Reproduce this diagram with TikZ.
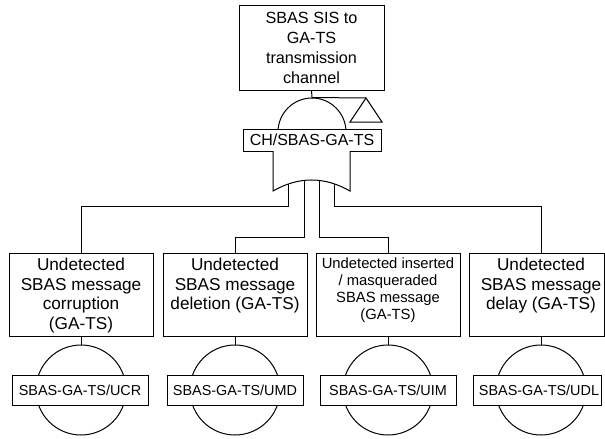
\documentclass[tikz,border=0pt]{standalone}
\usepackage{fontspec}
\setmainfont{Liberation Sans}
\begin{document}
\begin{tikzpicture}[x=0.5pt,y=-0.5pt,line width=0.5pt,
  evbox/.style={draw,fill=white,inner sep=0pt,minimum width=72pt,minimum height=41.5pt},
  evtext/.style={anchor=north,inner sep=0pt,align=center,font=\fontsize{8.6}{9.75}\selectfont},
  tag/.style={draw,fill=white,inner sep=0pt,minimum width=68pt,minimum height=15pt,font=\fontsize{7.2}{8}\selectfont},
  ring/.style={draw,circle,inner sep=0pt,minimum size=45pt}]
\useasboundingbox (0,0) rectangle (605,439);

% top event
\node[draw,fill=white,inner sep=0pt,minimum width=72.5pt,minimum height=42.5pt,align=center,
      font=\fontsize{8.1}{10}\selectfont] (top) at (311.5,47.5)
  {SBAS SIS to\\GA-TS\\transmission\\channel};

% gate symbol: arc, identifier box, OR base
\node[draw,circle,inner sep=0pt,minimum size=34pt] (gc) at (312,132) {};
\node[draw,fill=white,inner sep=0pt,minimum width=69pt,minimum height=11pt,
      font=\fontsize{8}{9}\selectfont] (ch) at (312,140) {CH/SBAS-GA-TS};
\path[draw,fill=white] (273,151) -- (273,191)
  .. controls (298.67,176.33) and (324.33,176.33) .. (350,191) -- (350,151);

% transfer triangle
\coordinate (tri) at (366,98);
\draw (tri) -- (350,122) -- (382,122) -- cycle;
\draw (top.south) -- (gc.north) -- (tri);

% basic events
\node[ring] (r1) at (81,390) {};
\node[ring] (r2) at (235,390) {};
\node[ring] (r3) at (388,390) {};
\node[ring] (r4) at (541,390) {};
\node[evbox] (b1) at (81,294.5) {};
\node[evbox] (b2) at (235,294.5) {};
\node[evbox] (b3) at (388,294.5) {};
\node[evbox,minimum width=67.5pt] (b4) at (536.5,294.5) {};

\node[evtext] at (81,258) {Undetected\\SBAS message\\corruption\\(GA-TS)};
\node[evtext] at (235,258) {Undetected\\SBAS message\\deletion (GA-TS)};
\node[evtext,font=\fontsize{7.4}{8.5}\selectfont] at (388,257)
  {Undetected inserted\\/ masqueraded\\SBAS message\\(GA-TS)};
\node[evtext] at (541,258) {Undetected\\SBAS message\\delay (GA-TS)};

\node[tag] (t1) at (80,390) {SBAS-GA-TS/UCR};
\node[tag] (t2) at (235,390) {SBAS-GA-TS/UMD};
\node[tag] (t3) at (388,390) {SBAS-GA-TS/UIM};
\node[tag,minimum width=64pt] (t4) at (537,390) {};
\node[inner sep=0pt,font=\fontsize{7.2}{8}\selectfont] at (539,390) {SBAS-GA-TS/UDL};

\foreach \n in {1,2,3}{ \draw (b\n.south) -- (r\n.north); }
\draw (r4.north |- b4.south) -- (r4.north);

% branches from the OR base
\coordinate (g1) at (288,184.1);
\coordinate (g2) at (304,180.4);
\coordinate (g3) at (319,180.4);
\coordinate (g4) at (334,183.7);
\coordinate (j1) at (288,206);
\coordinate (j2) at (304,237);
\coordinate (j3) at (319,237);
\coordinate (j4) at (334,206);
\coordinate (k4) at (541,253);
\draw (g1) -- (j1) -| (b1.north);
\draw (g2) -- (j2) -| (b2.north);
\draw (g3) -- (j3) -| (b3.north);
\draw (g4) -- (j4) -| (k4);
\end{tikzpicture}
\end{document}
